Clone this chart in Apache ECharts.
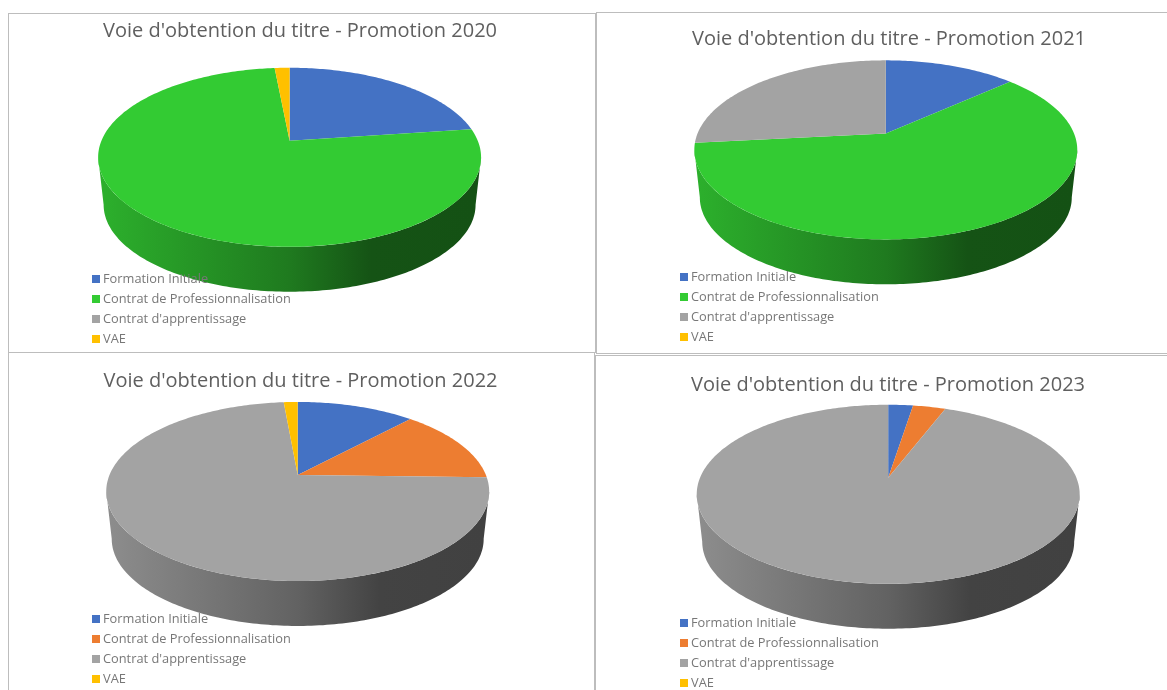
<!DOCTYPE html>
<html>
<head>
<meta charset="utf-8">
<style>
html,body{margin:0;padding:0;background:#fff;width:1167px;height:690px;overflow:hidden}
.p{position:absolute;outline:1px solid #bdbdbd;outline-offset:-1px;background:transparent}
</style>
<script src="https://cdn.jsdelivr.net/npm/echarts@6/dist/echarts.min.js"></script>
</head>
<body>
<script>
const categories = ["Formation Initiale", "Contrat de Professionnalisation", "Contrat d'apprentissage", "VAE"];
const titles = ["Voie d'obtention du titre - Promotion 2020", "Voie d'obtention du titre - Promotion 2021", "Voie d'obtention du titre - Promotion 2022", "Voie d'obtention du titre - Promotion 2023"];
const values2020 = [22.8, 75.7, 0, 1.5];
const values2021 = [13.3, 60, 26.7, 0];
const values2022 = [11.9, 13.5, 73.2, 1.4];
const values2023 = [2.5, 3.3, 94.2, 0];
const colorsGreen = ["#4472C4", "#33CB33", "#A3A3A3", "#FFC000"];
const colorsOrange = ["#4472C4", "#ED7D31", "#A3A3A3", "#FFC000"];

const panels = [
  {vals: values2020, cols: colorsGreen,  t: titles[0], box:[8,13,588,340],   c:[289.6,140.8], tc:[300,21],  lg:[92,272]},
  {vals: values2021, cols: colorsGreen,  t: titles[1], box:[596,12,585,342], c:[885.8,133.4], tc:[889,29],  lg:[680,270]},
  {vals: values2022, cols: colorsOrange, t: titles[2], box:[8,352,587,350],  c:[297.7,475],   tc:[300.5,371], lg:[92,612]},
  {vals: values2023, cols: colorsOrange, t: titles[3], box:[595,355,585,350],c:[888.2,477.8], tc:[888,375], lg:[680,616]}
];

// perspective tilt of the disc
const K = 0.184, RX = 188.2, RY = 86.5, RXB = 182.8, RYB = 84, DEPTH = 48;
function proj(deg, cx, cy, bottom) {
  const a = deg * Math.PI / 180, u = Math.sin(a), v = Math.cos(a), w = 1 + K * v;
  return bottom
    ? [cx + RXB * u / w, cy + DEPTH - RYB * v / w]
    : [cx + RX * u / w, cy - RY * v / w];
}
function shade(hex, f) {
  const n = parseInt(hex.slice(1), 16);
  const c = s => Math.round(((n >> s) & 255) * f);
  return `rgb(${c(16)},${c(8)},${c(0)})`;
}
const VIS0 = 100.5, VIS1 = 259.5;

panels.forEach(p => {
  const [bx, by, bw, bh] = p.box;
  const div = document.createElement('div');
  div.className = 'p';
  div.style.cssText = `left:${bx}px;top:${by}px;width:${bw}px;height:${bh}px`;
  document.body.appendChild(div);
  const chart = echarts.init(div, null, {width: bw, height: bh, renderer: 'canvas'});
  const cx = p.c[0] - bx, cy = p.c[1] - by;
  let cum = 0;
  const series = categories.map((name, i) => {
    const start = cum; cum += p.vals[i];
    const col = p.cols[i];
    return {
      type: 'custom', name, coordinateSystem: 'none', silent: true, animation: false,
      clip: false, z: 1,
      itemStyle: {color: col},
      data: [[start, p.vals[i]]],
      renderItem(params, api) {
        const s = api.value(0), val = api.value(1);
        if (!val) return {type: 'group', children: []};
        const a0 = s * 3.6, a1 = (s + val) * 3.6;
        const children = [];
        const v0 = Math.max(a0, VIS0), v1 = Math.min(a1, VIS1);
        if (v1 > v0) {
          const up = [], down = [];
          for (let d = v0; d < v1; d += 1) { up.push(proj(d, cx, cy)); down.push(proj(d, cx, cy, true)); }
          up.push(proj(v1, cx, cy)); down.push(proj(v1, cx, cy, true));
          children.push({
            type: 'polygon', shape: {points: up.concat(down.reverse())},
            style: {fill: {type: 'linear', global: true, x: cx - 186, y: 0, x2: cx + 186, y2: 0,
              colorStops: [
                {offset: 0, color: shade(col, 0.86)},
                {offset: 0.5, color: shade(col, 0.6)},
                {offset: 0.72, color: shade(col, 0.41)},
                {offset: 1, color: shade(col, 0.4)}
              ]}}
          });
        }
        const pts = [[cx, cy]];
        for (let d = a0; d < a1; d += 1) pts.push(proj(d, cx, cy));
        pts.push(proj(a1, cx, cy));
        children.push({type: 'polygon', shape: {points: pts}, style: {fill: col}});
        return {type: 'group', children};
      }
    };
  });
  chart.setOption({
    animation: false,
    backgroundColor: 'transparent',
    title: {
      text: p.t, left: p.tc[0] - bx, top: p.tc[1] - by, textAlign: 'center', padding: 0,
      textStyle: {color: '#5f5f5f', fontFamily: '"Open Sans"', fontSize: 20, fontWeight: 'normal'}
    },
    legend: {
      data: categories, orient: 'vertical', left: p.lg[0] - bx, top: p.lg[1] - by, padding: 0,
      icon: 'rect', itemWidth: 8, itemHeight: 8, itemGap: 6, z: 10,
      selectedMode: false,
      textStyle: {color: '#777777', fontFamily: '"Open Sans"', fontSize: 12.8, lineHeight: 14, padding: [0, 0, 0, -2]}
    },
    series
  });
});
</script>
</body>
</html>
